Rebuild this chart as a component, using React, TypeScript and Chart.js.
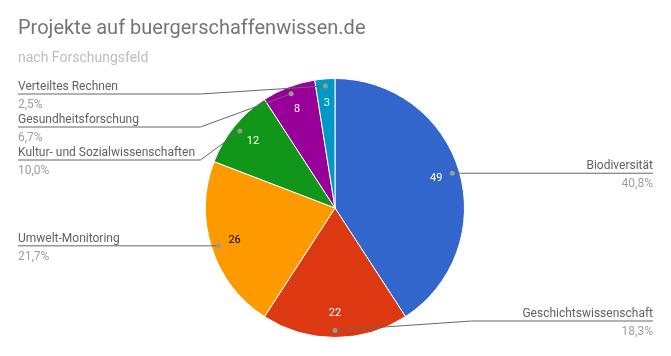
import React, { useEffect, useRef } from "react";
import { Chart, registerables } from "chart.js";

Chart.register(...registerables);

const categories = [
  "Biodiversität",
  "Geschichtswissenschaft",
  "Umwelt-Monitoring",
  "Kultur- und Sozialwissenschaften",
  "Gesundheitsforschung",
  "Verteiltes Rechnen",
];
const projectCounts = [49, 22, 26, 12, 8, 3];
const sliceColors = ["#3366cc", "#dc3912", "#ff9900", "#109618", "#990099", "#0099c6"];
const valueTextColors = ["#ffffff", "#ffffff", "#000000", "#ffffff", "#ffffff", "#ffffff"];
const titleText = "Projekte auf buergerschaffenwissen.de";
const subtitleText = "nach Forschungsfeld";

const FONT = "Roboto, 'Noto Sans', sans-serif";

const pieLabelsPlugin = {
  id: "pieLabels",
  afterDatasetsDraw(chart: any) {
    const ctx = chart.ctx;
    const meta = chart.getDatasetMeta(0);
    const data = chart.data.datasets[0].data as number[];
    const total = data.reduce((a, b) => a + b, 0);
    const area = chart.chartArea;
    const items: any[] = [];
    meta.data.forEach((arc: any, i: number) => {
      const p = arc.getProps(["x", "y", "startAngle", "endAngle", "outerRadius"], true);
      const mid = (p.startAngle + p.endAngle) / 2;
      const c = Math.cos(mid);
      const s = Math.sin(mid);
      ctx.save();
      ctx.font = `11px ${FONT}`;
      ctx.fillStyle = valueTextColors[i];
      ctx.textAlign = "center";
      ctx.textBaseline = "middle";
      ctx.fillText(String(data[i]), p.x + c * p.outerRadius * 0.815, p.y + s * p.outerRadius * 0.815);
      ctx.restore();
      const dx = p.x + c * p.outerRadius * 0.945;
      const dy = p.y + s * p.outerRadius * 0.945;
      items.push({
        i,
        side: c >= -1e-6 ? "right" : "left",
        dx,
        dy,
        cx: p.x,
        r: p.outerRadius,
        lineY: dy,
      });
    });
    const minY = area.top + 16;
    const maxY = area.bottom - 17;
    const gap = 33;
    ["left", "right"].forEach((side) => {
      const list = items.filter((it) => it.side === side).sort((a, b) => a.dy - b.dy);
      let prev = -Infinity;
      list.forEach((it) => {
        it.lineY = Math.max(it.dy, prev + gap, minY);
        prev = it.lineY;
      });
      let next = Infinity;
      for (let k = list.length - 1; k >= 0; k--) {
        const it = list[k];
        it.lineY = Math.min(it.lineY, next - gap, maxY);
        next = it.lineY;
      }
    });
    items.forEach((it) => {
      const left = it.side === "left";
      const bendX = left ? it.cx - it.r - 5 : it.cx + it.r + 7;
      const endX = left ? area.left : area.right + 1;
      ctx.save();
      ctx.strokeStyle = "#666666";
      ctx.lineWidth = 1;
      ctx.beginPath();
      ctx.moveTo(it.dx, it.dy);
      if (Math.abs(it.lineY - it.dy) > 0.5) {
        ctx.lineTo(bendX, it.lineY);
      }
      ctx.lineTo(endX, it.lineY);
      ctx.stroke();
      ctx.fillStyle = "#999999";
      ctx.beginPath();
      ctx.arc(it.dx, it.dy, 2.5, 0, Math.PI * 2);
      ctx.fill();
      ctx.textAlign = left ? "left" : "right";
      ctx.textBaseline = "alphabetic";
      ctx.font = `12px ${FONT}`;
      ctx.fillStyle = "#616161";
      ctx.fillText(categories[it.i], endX, it.lineY - 4);
      ctx.fillStyle = "#9e9e9e";
      const pct = ((data[it.i] / total) * 100).toFixed(1).replace(".", ",") + "%";
      ctx.fillText(pct, endX, it.lineY + 14);
      ctx.restore();
    });
  },
};

export default function App() {
  const canvasRef = useRef<HTMLCanvasElement | null>(null);
  useEffect(() => {
    if (!canvasRef.current) return;
    const chart = new Chart(canvasRef.current, {
      type: "pie",
      data: {
        labels: categories,
        datasets: [
          {
            data: projectCounts,
            backgroundColor: sliceColors,
            borderColor: "#ffffff",
            borderWidth: 1,
          },
        ],
      },
      options: {
        animation: false,
        responsive: false,
        maintainAspectRatio: false,
        layout: { padding: { top: 17, left: 18, right: 19, bottom: 18 } },
        plugins: {
          legend: { display: false },
          tooltip: { enabled: false },
          title: {
            display: true,
            text: titleText,
            align: "start",
            color: "#757575",
            font: { family: FONT, size: 20, weight: "normal" },
            padding: { top: 0, bottom: 8.6 },
          },
          subtitle: {
            display: true,
            text: subtitleText,
            align: "start",
            color: "#bdbdbd",
            font: { family: FONT, size: 14, weight: "normal" },
            padding: { top: 0, bottom: 11.6 },
          },
        },
      },
      plugins: [pieLabelsPlugin],
    });
    return () => chart.destroy();
  }, []);
  return (
    <div style={{ position: "fixed", left: 0, top: 0, width: 671, height: 356, background: "#ffffff" }}>
      <canvas ref={canvasRef} width={671} height={356} style={{ width: 671, height: 356 }} />
    </div>
  );
}
